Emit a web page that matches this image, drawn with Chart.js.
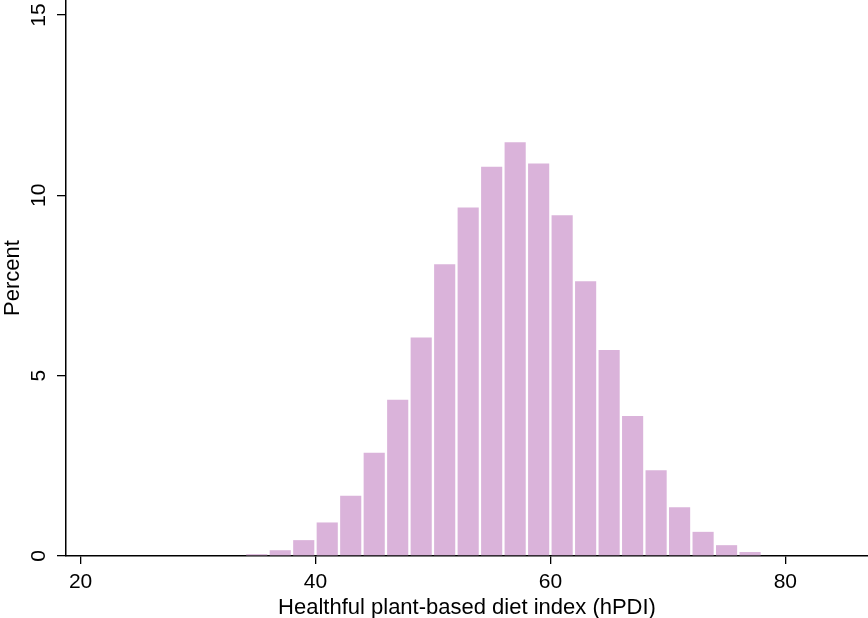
<!DOCTYPE html>
<html>
<head>
<meta charset="utf-8">
<script src="https://cdn.jsdelivr.net/npm/chart.js@4"></script>
<style>
html,body{margin:0;padding:0;background:#fff;}
#wrap{width:868px;height:618px;position:relative;}
</style>
</head>
<body>
<div id="wrap"><canvas id="c" width="868" height="618"></canvas></div>
<script>
// Histogram bins (left edge of each 2-unit bin) and percent values
const binStarts = [34,36,38,40,42,44,46,48,50,52,54,56,58,60,62,64,66,68,70,72,74,76];
const percents  = [0.05,0.16,0.44,0.93,1.67,2.86,4.33,6.06,8.09,9.66,10.79,11.47,10.88,9.45,7.62,5.71,3.88,2.38,1.35,0.67,0.30,0.11];
const binWidth = 2;
const xTicks = [20,40,60,80];
const yTicks = [0,5,10,15];
const xTitle = 'Healthful plant-based diet index (hPDI)';
const yTitle = 'Percent';

const FONT = 'Liberation Sans, Arial, Helvetica, sans-serif';
const barData = binStarts.map((b,i)=>({x: b + binWidth/2, y: percents[i]}));

const rotatedYLabels = {
  id: 'rotatedYLabels',
  afterDraw(chart){
    const ctx = chart.ctx, ys = chart.scales.y;
    ctx.save();
    ctx.fillStyle = '#000';
    ctx.font = '21px ' + FONT;
    ctx.textAlign = 'center';
    ctx.textBaseline = 'middle';
    yTicks.forEach(v=>{
      const py = ys.getPixelForValue(v);
      ctx.save();
      ctx.translate(39, py);
      ctx.rotate(-Math.PI/2);
      ctx.fillText(String(v), 0, 0);
      ctx.restore();
    });
    ctx.restore();
  }
};

new Chart(document.getElementById('c'), {
  type: 'bar',
  data: {
    datasets: [{
      data: barData,
      backgroundColor: '#DAB3DA',
      borderWidth: 0,
      barPercentage: 0.9,
      categoryPercentage: 1.0
    }]
  },
  options: {
    responsive: false,
    animation: false,
    events: [],
    layout: { padding: {left:0, right:0, top:0, bottom:0} },
    plugins: { legend: {display:false}, tooltip: {enabled:false} },
    scales: {
      x: {
        type: 'linear',
        min: 18.76, max: 87.04,
        offset: false,
        afterBuildTicks: s => { s.ticks = xTicks.map(v=>({value:v})); },
        afterFit: s => { s.height = 62; },
        grid: { display: true, drawOnChartArea: false, drawTicks: true, tickLength: 8, color: '#000', lineWidth: 1.3, offset: false },
        border: { display: true, color: '#000', width: 1.5 },
        ticks: { color: '#000', font: { size: 21, family: FONT }, padding: 6, maxRotation: 0, autoSkip: false },
        title: { display: true, text: xTitle, color: '#000', font: { size: 22, family: FONT }, padding: {top: 0, bottom: -3} }
      },
      y: {
        type: 'linear',
        min: 0, max: 15.415,
        afterBuildTicks: s => { s.ticks = yTicks.map(v=>({value:v})); },
        afterFit: s => { s.width = 66; },
        grid: { display: true, drawOnChartArea: false, drawTicks: true, tickLength: 9, color: '#000', lineWidth: 1.3 },
        border: { display: true, color: '#000', width: 1.5 },
        ticks: { display: false },
        title: { display: true, text: yTitle, color: '#000', font: { size: 22, family: FONT }, padding: 0 }
      }
    }
  },
  plugins: [rotatedYLabels]
});
</script>
</body>
</html>
